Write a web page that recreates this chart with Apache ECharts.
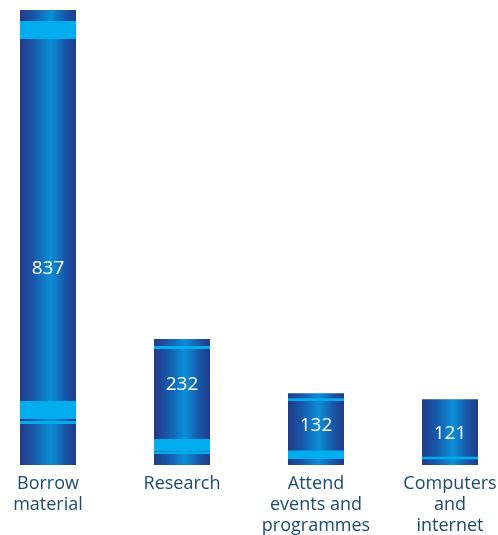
<!DOCTYPE html>
<html>
<head>
<meta charset="utf-8">
<style>
  html, body { margin: 0; padding: 0; background: #ffffff; }
  #chart { width: 498px; height: 535px; }
</style>
<script src="https://cdn.jsdelivr.net/npm/echarts@6/dist/echarts.min.js"></script>
</head>
<body>
<div id="chart"></div>
<script>
// Reasons for visiting the library
const categories = ['Borrow\nmaterial', 'Research', 'Attend\nevents and\nprogrammes', 'Computers\nand\ninternet'];
const visits = [837, 232, 132, 121];

// Decorative light bands on each column, in pixels: measured from the column top
// ("top") or up from the baseline ("bottom"), as [from, to].
const bandStyle = [
  { top: [[11, 29]], bottom: [[46, 64], [41, 44]] },
  { top: [[7, 10]], bottom: [[14, 26], [11, 13.5]] },
  { top: [[5, 7.7]], bottom: [[6, 14.5]] },
  { top: [], bottom: [[5.7, 8.3]] }
];
// Vertical nudge of each value label from the column's middle
const labelShift = [31, -17, -4, 1];

const BAR_WIDTH = 56;
const BAND_COLOR = '#00aeef';

const chart = echarts.init(document.getElementById('chart'), null, { renderer: 'canvas' });

function columnFill() {
  return new echarts.graphic.LinearGradient(0, 0, 1, 0, [
    { offset: 0, color: '#223a87' },
    { offset: 0.25, color: '#1858a9' },
    { offset: 0.55, color: '#0a8fd7' },
    { offset: 0.8, color: '#1858a9' },
    { offset: 1, color: '#223a87' }
  ]);
}

function renderColumn(params, api) {
  const idx = params.dataIndex;
  const value = api.value(1);
  const top = api.coord([api.value(0), value]);
  const base = api.coord([api.value(0), 0]);
  const x = top[0] - BAR_WIDTH / 2;
  const h = base[1] - top[1];
  const children = [{
    type: 'rect',
    shape: { x: x, y: top[1], width: BAR_WIDTH, height: h },
    style: { fill: columnFill() }
  }];
  const bands = bandStyle[idx];
  bands.top.forEach(function (b) {
    children.push({
      type: 'rect',
      shape: { x: x, y: top[1] + b[0], width: BAR_WIDTH, height: b[1] - b[0] },
      style: { fill: BAND_COLOR }
    });
  });
  bands.bottom.forEach(function (b) {
    children.push({
      type: 'rect',
      shape: { x: x, y: base[1] - b[1], width: BAR_WIDTH, height: b[1] - b[0] },
      style: { fill: BAND_COLOR }
    });
  });
  children.push({
    type: 'text',
    style: {
      x: top[0],
      y: top[1] + h / 2 + labelShift[idx],
      text: String(value),
      fill: '#ffffff',
      font: '19px "Open Sans", sans-serif',
      align: 'center',
      verticalAlign: 'middle'
    }
  });
  return { type: 'group', children: children };
}

chart.setOption({
  animation: false,
  grid: { left: 48, right: 48, top: 10, bottom: 70, outerBoundsMode: 'none' },
  xAxis: {
    type: 'category',
    data: categories,
    boundaryGap: false,
    axisLine: { show: false },
    axisTick: { show: false },
    axisLabel: {
      interval: 0,
      margin: 8,
      color: '#1c4a6b',
      fontFamily: 'Open Sans',
      fontSize: 18,
      lineHeight: 21,
      align: 'center',
      verticalAlign: 'top'
    }
  },
  yAxis: {
    type: 'value',
    min: 0,
    max: 'dataMax',
    show: false,
    splitLine: { show: false }
  },
  series: [{
    type: 'custom',
    renderItem: renderColumn,
    encode: { x: 0, y: 1 },
    data: visits.map(function (v, i) { return [i, v]; })
  }]
});
</script>
</body>
</html>
